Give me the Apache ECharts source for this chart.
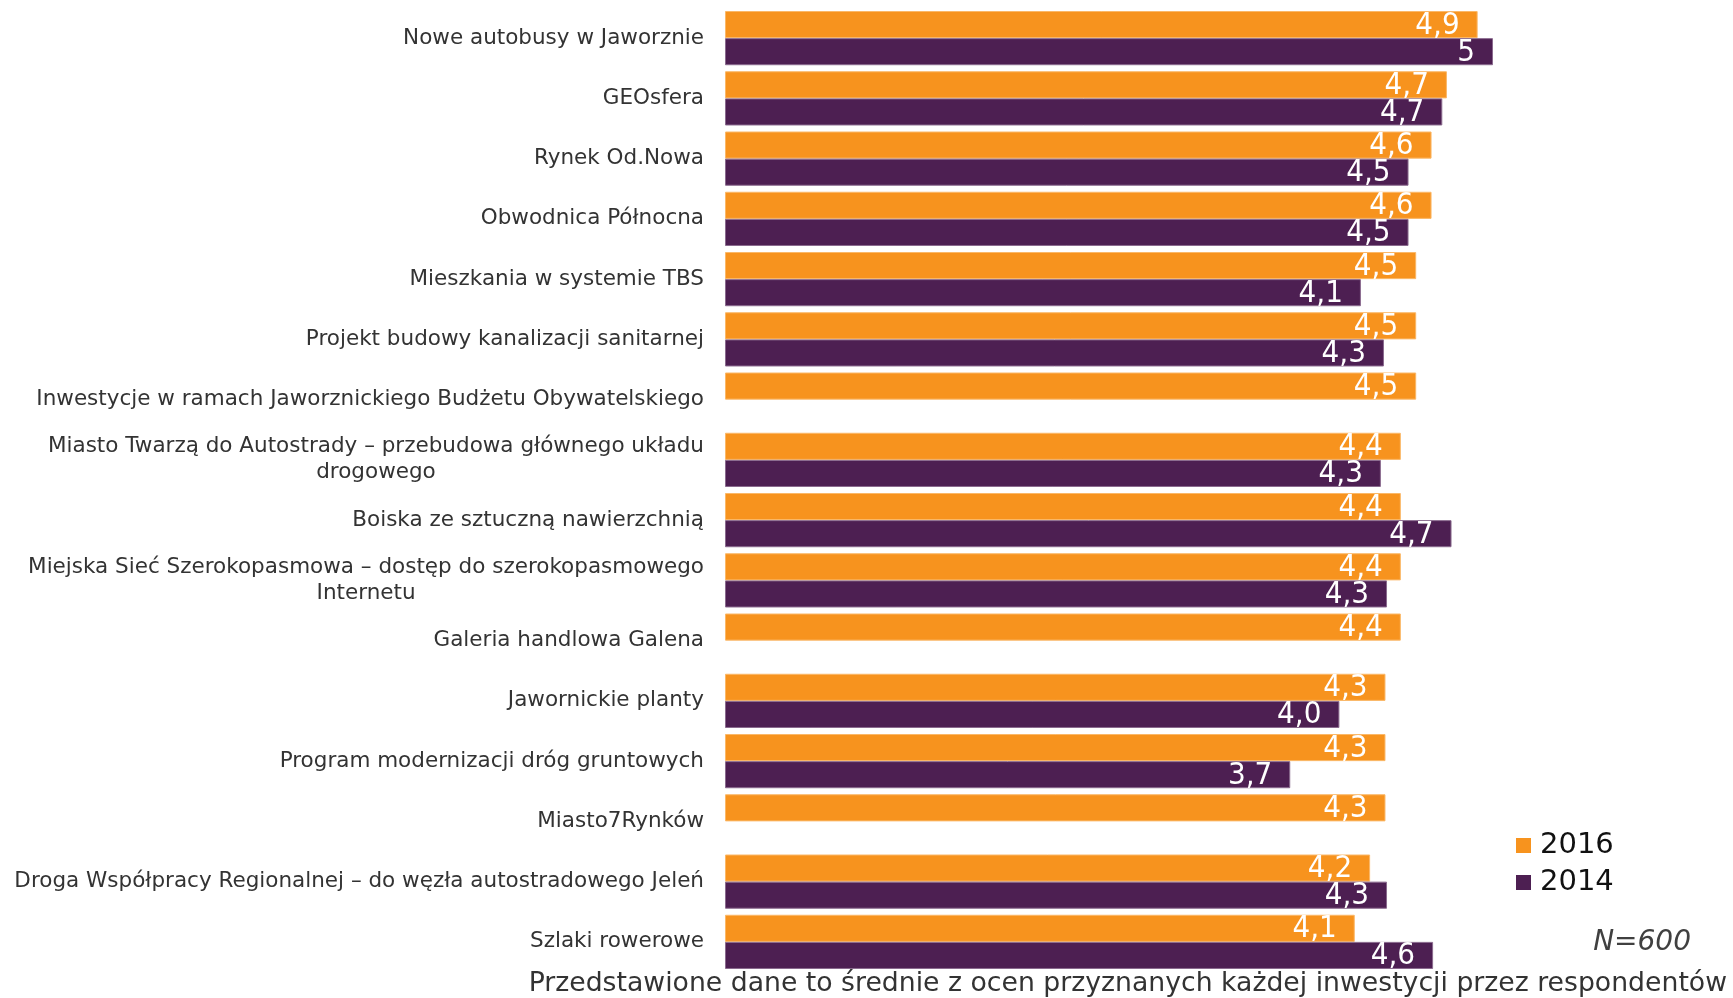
<!DOCTYPE html>
<html>
<head>
<meta charset="utf-8">
<script src="https://cdn.jsdelivr.net/npm/echarts@6/dist/echarts.min.js"></script>
<style>
  html, body { margin: 0; padding: 0; background: #fff; }
  #chart { width: 1733px; height: 998px; }
</style>
</head>
<body>
<div id="chart"></div>
<script>
// dane z wykresu
var categories = [
  'Nowe autobusy w Jaworznie',
  'GEOsfera',
  'Rynek Od.Nowa',
  'Obwodnica Północna',
  'Mieszkania w systemie TBS',
  'Projekt budowy kanalizacji sanitarnej',
  'Inwestycje w ramach Jaworznickiego Budżetu Obywatelskiego',
  'Miasto Twarzą do Autostrady – przebudowa głównego układu\ndrogowego',
  'Boiska ze sztuczną nawierzchnią',
  'Miejska Sieć Szerokopasmowa – dostęp do szerokopasmowego\nInternetu',
  'Galeria handlowa Galena',
  'Jawornickie planty',
  'Program modernizacji dróg gruntowych',
  'Miasto7Rynków',
  'Droga Współpracy Regionalnej – do węzła autostradowego Jeleń',
  'Szlaki rowerowe'
];
var values2016 = [4.9, 4.7, 4.6, 4.6, 4.5, 4.5, 4.5, 4.4, 4.4, 4.4, 4.4, 4.3, 4.3, 4.3, 4.2, 4.1];
var values2014 = [5.0, 4.67, 4.45, 4.45, 4.14, 4.29, null, 4.27, 4.73, 4.31, null, 4.0, 3.68, null, 4.31, 4.61];
var labels2016 = ['4,9', '4,7', '4,6', '4,6', '4,5', '4,5', '4,5', '4,4', '4,4', '4,4', '4,4', '4,3', '4,3', '4,3', '4,2', '4,1'];
var labels2014 = ['5', '4,7', '4,5', '4,5', '4,1', '4,3', '', '4,3', '4,7', '4,3', '', '4,0', '3,7', '', '4,3', '4,6'];

var valueFont = '"DejaVu Sans Condensed", "Liberation Sans Narrow", "DejaVu Sans", sans-serif';

var myChart = echarts.init(document.getElementById('chart'));

function valueLabel(texts) {
  return {
    show: true,
    position: 'insideRight',
    distance: 18,
    offset: [0, 1],
    color: '#fff',
    fontFamily: valueFont,
    fontSize: 31,
    formatter: function (p) { return texts[p.dataIndex]; }
  };
}

var option = {
  animation: false,
  textStyle: { fontFamily: '"DejaVu Sans", Verdana, sans-serif' },
  grid: { left: 725, top: 8, right: 240, bottom: 26, containLabel: false },
  legend: {
    orient: 'vertical',
    left: 1511,
    top: 826,
    itemWidth: 15,
    itemHeight: 15,
    itemGap: 8,
    icon: 'rect',
    itemStyle: { borderWidth: 0 },
    textStyle: { fontSize: 29, color: '#111', padding: [0, 0, 0, 4], fontFamily: '"DejaVu Sans", sans-serif' },
    data: ['2016', '2014']
  },
  xAxis: {
    type: 'value',
    min: 0,
    max: 5,
    show: false
  },
  yAxis: {
    type: 'category',
    inverse: true,
    data: categories,
    axisLine: { show: false },
    axisTick: { show: false },
    axisLabel: {
      margin: 21,
      color: '#333',
      fontSize: 21.5,
      lineHeight: 26,
      formatter: function (v) {
        return v.split('\n').map(function (l) { return '{c|' + l + '}'; }).join('\n');
      },
      rich: {
        c: { align: 'center', fontSize: 21.5, lineHeight: 26, color: '#333' }
      }
    }
  },
  series: [
    {
      name: '2016',
      type: 'bar',
      data: values2016,
      barGap: '0%',
      barCategoryGap: '10%',
      itemStyle: { color: '#F7931E', borderColor: '#FBB868', borderWidth: 1 },
      label: valueLabel(labels2016)
    },
    {
      name: '2014',
      type: 'bar',
      data: values2014,
      itemStyle: { color: '#4D1F52', borderColor: '#8A6A8E', borderWidth: 1 },
      label: valueLabel(labels2014)
    }
  ],
  graphic: [
    {
      type: 'text',
      right: 42,
      top: 929,
      style: {
        text: 'N=600',
        fontSize: 28,
        fontStyle: 'italic',
        fill: '#404040',
        fontFamily: '"DejaVu Sans", sans-serif'
      }
    },
    {
      type: 'text',
      right: 6,
      top: 971,
      style: {
        text: 'Przedstawione dane to średnie z ocen przyznanych każdej inwestycji przez respondentów',
        fontSize: 26.7,
        fill: '#333',
        fontFamily: '"DejaVu Sans", sans-serif'
      }
    }
  ]
};

myChart.setOption(option);
</script>
</body>
</html>
